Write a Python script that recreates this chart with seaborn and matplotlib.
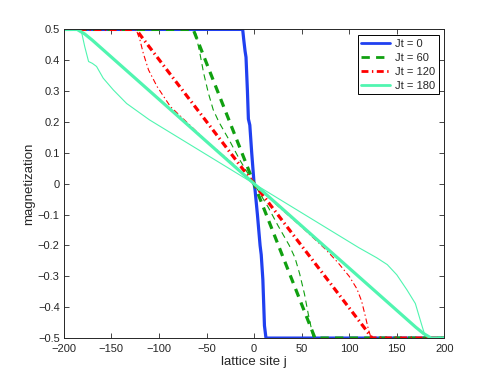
import numpy as np
import pandas as pd
import matplotlib
matplotlib.use("Agg")
import matplotlib.pyplot as plt
import seaborn as sns

# values
# thick curves (the ones in the legend)
j_t0 = [-200, -12, -11, -9.5, -8.5, -7, -6, -4.5, -2.5, 0, 1, 3.5, 6.3, 7.5, 9.2, 10.9, 12.5, 200]
m_t0 = [0.5, 0.5, 0.47, 0.43, 0.41, 0.30, 0.21, 0.19, 0.10, 0.0, -0.02, -0.10, -0.20, -0.23, -0.31, -0.46, -0.5, -0.5]

j_t60 = [-200, -64, 64, 200]
m_t60 = [0.5, 0.5, -0.5, -0.5]

j_t120 = [-200, -124, -118, 118, 124, 200]
m_t120 = [0.5, 0.5, 0.475, -0.475, -0.5, -0.5]

j_t180 = [-200, -186, -178, -170, 170, 178, 186, 200]
m_t180 = [0.5, 0.5, 0.485, 0.465, -0.465, -0.485, -0.5, -0.5]

# thin curves
j_t60_thin = [-200, -62, -60, -57, -53, -48, -43, -37, -25, -15, 0, 15, 25, 37, 43, 48, 53, 57, 60, 62, 200]
m_t60_thin = [0.5, 0.5, 0.466, 0.423, 0.358, 0.293, 0.24, 0.2, 0.135, 0.077, 0.0,
              -0.077, -0.135, -0.2, -0.24, -0.293, -0.358, -0.423, -0.466, -0.5, -0.5]

j_t120_thin = [-200, -124, -120, -116.5, -111, -102, -88, -75, -50, -25, 0,
               25, 50, 75, 88, 100, 108, 113, 117, 120, 123, 200]
m_t120_thin = [0.5, 0.5, 0.466, 0.423, 0.369, 0.315, 0.25, 0.212, 0.138, 0.072, 0.0,
               -0.072, -0.14, -0.212, -0.255, -0.3, -0.34, -0.38, -0.43, -0.47, -0.5, -0.5]

j_t180_thin = [-200, -182, -178, -174, -170, -165.6, -158.6, -148, -134, -110, 0,
               110, 129, 140, 150, 160.7, 169.5, 174.7, 180, 182, 200]
m_t180_thin = [0.5, 0.5, 0.444, 0.396, 0.39, 0.38, 0.342, 0.304, 0.26, 0.207, 0.0,
               -0.207, -0.24, -0.262, -0.295, -0.344, -0.388, -0.442, -0.496, -0.5, -0.5]

labels = ["Jt = 0", "Jt = 60", "Jt = 120", "Jt = 180"]
colors = ["#2040F0", "#10A010", "#FF0000", "#50F5B0"]

sns.set_style("ticks")
plt.rcParams["font.family"] = ["Liberation Sans", "DejaVu Sans"]
plt.rcParams["lines.scale_dashes"] = False

fig = plt.figure(figsize=(4.91, 3.82), dpi=100)
ax = fig.add_axes([0.13, 0.115, 0.775, 0.808])

thick = [(j_t0, m_t0), (j_t60, m_t60), (j_t120, m_t120), (j_t180, m_t180)]
thin = [(j_t60_thin, m_t60_thin, 1), (j_t120_thin, m_t120_thin, 2), (j_t180_thin, m_t180_thin, 3)]

thick_styles = ["-", (0, (6, 4.5)), (0, (5, 2.5, 1, 2.5)), "-"]
thin_styles = [(0, (4.5, 3)), (0, (4, 2, 1, 2)), "-"]

# thin lines first so the thick ones sit on top
for jj, mm, k in thin:
    df = pd.DataFrame({"j": jj, "m": mm})
    sns.lineplot(data=df, x="j", y="m", ax=ax, color=colors[k], lw=0.8,
                 linestyle=thin_styles[k - 1], estimator=None, legend=False)

handles = []
for k, (jj, mm) in enumerate(thick):
    df = pd.DataFrame({"j": jj, "m": mm})
    sns.lineplot(data=df, x="j", y="m", ax=ax, color=colors[k], lw=2.3,
                 linestyle=thick_styles[k], estimator=None, legend=False)
    handles.append(plt.Line2D([], [], color=colors[k], lw=2.0, linestyle=thick_styles[k]))

ax.set_xlim(-200, 200)
ax.set_ylim(-0.5, 0.5)
ax.set_xticks(np.arange(-200, 201, 50))
ax.set_yticks(np.round(np.arange(-0.5, 0.51, 0.1), 1))
ax.set_yticklabels(["\u22120.5", "\u22120.4", "\u22120.3", "\u22120.2", "\u22120.1", "0",
                    "0.1", "0.2", "0.3", "0.4", "0.5"])
ax.set_xticklabels(["\u2212200", "\u2212150", "\u2212100", "\u221250", "0", "50", "100", "150", "200"])
ax.tick_params(direction="in", top=True, right=True, labelsize=8, length=3.5, width=0.6)
ax.tick_params(axis="x", pad=4.5)
ax.tick_params(axis="y", pad=3)
for s in ax.spines.values():
    s.set_linewidth(0.7)
ax.set_xlabel("lattice site j", fontsize=9.5, labelpad=1)
ax.set_ylabel("magnetization", fontsize=9.5, labelpad=2)

leg = ax.legend(handles, labels, loc="upper right", fontsize=8, fancybox=False,
                edgecolor="black", framealpha=1, handlelength=2.6, borderaxespad=0.5,
                labelspacing=0.35, handletextpad=0.4, borderpad=0.35)
leg.get_frame().set_linewidth(0.7)

fig.savefig("out.png", dpi=100)
